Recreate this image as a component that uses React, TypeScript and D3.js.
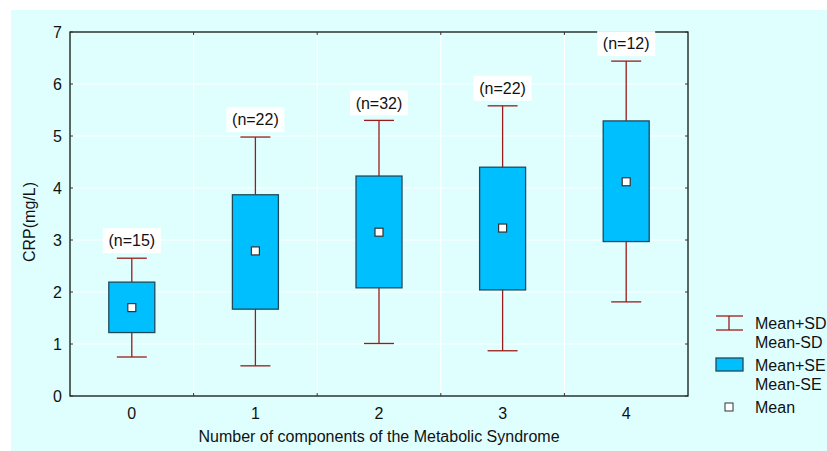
import React from "react";
import * as d3 from "d3";

const categories = ["0", "1", "2", "3", "4"];
const nLabels = ["(n=15)", "(n=22)", "(n=32)", "(n=22)", "(n=12)"];
const means = [1.7, 2.79, 3.15, 3.23, 4.12];
const seLow = [1.22, 1.67, 2.08, 2.04, 2.97];
const seHigh = [2.19, 3.87, 4.23, 4.4, 5.29];
const sdLow = [0.75, 0.58, 1.01, 0.87, 1.81];
const sdHigh = [2.65, 4.98, 5.3, 5.58, 6.44];
const yTicks = [0, 1, 2, 3, 4, 5, 6, 7];
const legendItems = ["Mean+SD", "Mean-SD", "Mean+SE", "Mean-SE", "Mean"];

const W = 827;
const H = 451;
const left = 70, right = 688, top = 32, bottom = 396;
const font = "'Liberation Sans', Arial, sans-serif";
const fs = 16;
const whiskerColor = "#9B1B1B";
const boxFill = "#00BFFF";
const boxStroke = "#1F4A5A";
const bg = "#DFFFFF";

export default function App() {
  const x = d3.scaleBand<string>().domain(categories).range([left, right]).padding(0);
  const y = d3.scaleLinear().domain([0, 7]).range([bottom, top]);
  const bw = x.bandwidth();
  const boxW = 46;
  const capW = 30;
  const boundaries = categories.slice(1).map((c) => x(c) as number);

  return (
    <svg width={W} height={H} style={{ position: "absolute", left: 0, top: 0 }}>
      <rect x={11} y={10} width={W - 11} height={H - 10} fill={bg} />
      {/* grid */}
      {yTicks.slice(1, -1).map((t) => (
        <line key={"g" + t} x1={left} x2={right} y1={y(t)} y2={y(t)} stroke="#FFFFFF" strokeWidth={1.2} />
      ))}
      {boundaries.map((b, i) => (
        <line key={"v" + i} x1={b} x2={b} y1={top} y2={bottom} stroke="#FFFFFF" strokeWidth={1.2} />
      ))}
      {/* frame */}
      <rect x={left} y={top} width={right - left} height={bottom - top} fill="none" stroke="#000" strokeWidth={1.2} />
      {/* ticks */}
      {yTicks.map((t) => (
        <g key={"yt" + t}>
          <line x1={left} x2={left + 3} y1={y(t)} y2={y(t)} stroke="#333" />
          <line x1={right} x2={right - 3} y1={y(t)} y2={y(t)} stroke="#333" />
          <text x={left - 8} y={y(t)} dy="0.36em" textAnchor="end" fontFamily={font} fontSize={fs} fill="#111">
            {t}
          </text>
        </g>
      ))}
      {boundaries.map((b, i) => (
        <g key={"xt" + i}>
          <line x1={b} x2={b} y1={bottom} y2={bottom - 3} stroke="#333" />
          <line x1={b} x2={b} y1={top} y2={top + 3} stroke="#333" />
        </g>
      ))}
      {categories.map((c) => (
        <text key={"xl" + c} x={(x(c) as number) + bw / 2} y={418.5} textAnchor="middle" fontFamily={font} fontSize={fs} fill="#111">
          {c}
        </text>
      ))}
      {/* boxes */}
      {categories.map((c, i) => {
        const cx = (x(c) as number) + bw / 2;
        return (
          <g key={"b" + c}>
            <line x1={cx} x2={cx} y1={y(sdHigh[i])} y2={y(sdLow[i])} stroke={whiskerColor} strokeWidth={1.3} />
            <line x1={cx - capW / 2} x2={cx + capW / 2} y1={y(sdHigh[i])} y2={y(sdHigh[i])} stroke={whiskerColor} strokeWidth={1.3} />
            <line x1={cx - capW / 2} x2={cx + capW / 2} y1={y(sdLow[i])} y2={y(sdLow[i])} stroke={whiskerColor} strokeWidth={1.3} />
            <rect x={cx - boxW / 2} y={y(seHigh[i])} width={boxW} height={y(seLow[i]) - y(seHigh[i])} fill={boxFill} stroke={boxStroke} strokeWidth={1.3} />
            <rect x={cx - 4} y={y(means[i]) - 4} width={8} height={8} fill="#FFF" stroke="#333" strokeWidth={1.2} />
            <rect x={cx - 29} y={y(sdHigh[i]) - 30} width={58} height={25} fill="#FFF" />
            <text x={cx} y={y(sdHigh[i]) - 17.5} dy="0.36em" textAnchor="middle" fontFamily={font} fontSize={fs} fill="#111">
              {nLabels[i]}
            </text>
          </g>
        );
      })}
      {/* axis titles */}
      <text x={(left + right) / 2} y={442} textAnchor="middle" fontFamily={font} fontSize={fs} fill="#111">
        Number of components of the Metabolic Syndrome
      </text>
      <text transform={`translate(35,222) rotate(-90)`} textAnchor="middle" fontFamily={font} fontSize={fs} fill="#111">
        CRP(mg/L)
      </text>
      {/* legend */}
      <g>
        <line x1={729} x2={729} y1={316} y2={330} stroke={whiskerColor} strokeWidth={1.3} />
        <line x1={716} x2={743} y1={316} y2={316} stroke={whiskerColor} strokeWidth={1.3} />
        <line x1={716} x2={743} y1={330} y2={330} stroke={whiskerColor} strokeWidth={1.3} />
        <text x={755} y={323} dy="0.36em" fontFamily={font} fontSize={fs} fill="#111">{legendItems[0]}</text>
        <text x={755} y={342} dy="0.36em" fontFamily={font} fontSize={fs} fill="#111">{legendItems[1]}</text>
        <rect x={716} y={358} width={27} height={13} fill={boxFill} stroke={boxStroke} strokeWidth={1.3} />
        <text x={755} y={365} dy="0.36em" fontFamily={font} fontSize={fs} fill="#111">{legendItems[2]}</text>
        <text x={755} y={384} dy="0.36em" fontFamily={font} fontSize={fs} fill="#111">{legendItems[3]}</text>
        <rect x={725} y={403} width={8} height={8} fill="#FFF" stroke="#333" strokeWidth={1} />
        <text x={755} y={407} dy="0.36em" fontFamily={font} fontSize={fs} fill="#111">{legendItems[4]}</text>
      </g>
    </svg>
  );
}
